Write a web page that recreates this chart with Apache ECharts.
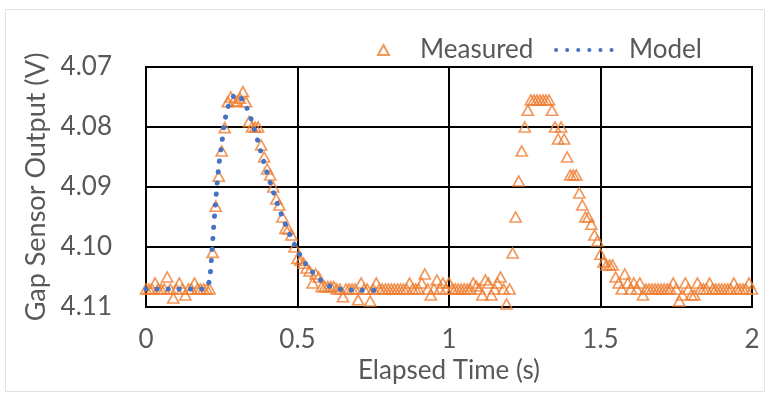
<!DOCTYPE html>
<html>
<head>
<meta charset="utf-8">
<script src="https://cdn.jsdelivr.net/npm/echarts@6/dist/echarts.min.js"></script>
<style>
  html, body { margin: 0; padding: 0; background: #fff; }
  #chart { width: 770px; height: 394px; }
</style>
</head>
<body>
<div id="chart"></div>
<script>
// sample times (s) and gap sensor readings (V)
const measuredTime = [
  0.00, 0.01, 0.02, 0.03, 0.04, 0.05, 0.06, 0.07, 0.08, 0.09,
  0.10, 0.11, 0.12, 0.13, 0.14, 0.15, 0.16, 0.17, 0.18, 0.19,
  0.20, 0.21, 0.22, 0.23, 0.24, 0.25, 0.26, 0.27, 0.28, 0.29,
  0.30, 0.31, 0.32, 0.33, 0.34, 0.35, 0.36, 0.37, 0.38, 0.39,
  0.40, 0.41, 0.42, 0.43, 0.44, 0.45, 0.46, 0.47, 0.48, 0.49,
  0.50, 0.51, 0.52, 0.53, 0.54, 0.55, 0.56, 0.57, 0.58, 0.59,
  0.60, 0.61, 0.62, 0.63, 0.64, 0.65, 0.66, 0.67, 0.68, 0.69,
  0.70, 0.71, 0.72, 0.73, 0.74, 0.75, 0.76, 0.77, 0.78, 0.79,
  0.80, 0.81, 0.82, 0.83, 0.84, 0.85, 0.86, 0.87, 0.88, 0.89,
  0.90, 0.91, 0.92, 0.93, 0.94, 0.95, 0.96, 0.97, 0.98, 0.99,
  1.00, 1.01, 1.02, 1.03, 1.04, 1.05, 1.06, 1.07, 1.08, 1.09,
  1.10, 1.11, 1.12, 1.13, 1.14, 1.15, 1.16, 1.17, 1.18, 1.19,
  1.20, 1.21, 1.22, 1.23, 1.24, 1.25, 1.26, 1.27, 1.28, 1.29,
  1.30, 1.31, 1.32, 1.33, 1.34, 1.35, 1.36, 1.37, 1.38, 1.39,
  1.40, 1.41, 1.42, 1.43, 1.44, 1.45, 1.46, 1.47, 1.48, 1.49,
  1.50, 1.51, 1.52, 1.53, 1.54, 1.55, 1.56, 1.57, 1.58, 1.59,
  1.60, 1.61, 1.62, 1.63, 1.64, 1.65, 1.66, 1.67, 1.68, 1.69,
  1.70, 1.71, 1.72, 1.73, 1.74, 1.75, 1.76, 1.77, 1.78, 1.79,
  1.80, 1.81, 1.82, 1.83, 1.84, 1.85, 1.86, 1.87, 1.88, 1.89,
  1.90, 1.91, 1.92, 1.93, 1.94, 1.95, 1.96, 1.97, 1.98, 1.99,
  2.00
];
const measuredValue = [
  4.107, 4.107, 4.107, 4.106, 4.107, 4.107, 4.107, 4.105, 4.107, 4.1085,
  4.107, 4.106, 4.107, 4.108, 4.107, 4.107, 4.106, 4.107, 4.107, 4.107,
  4.107, 4.107, 4.1009, 4.0932, 4.0882, 4.0840, 4.0801, 4.0758, 4.0750, 4.0756,
  4.0758, 4.0752, 4.0741, 4.0758, 4.0791, 4.0800, 4.0800, 4.0800, 4.0830, 4.0850,
  4.0870, 4.0880, 4.0900, 4.0920, 4.0930, 4.0950, 4.0969, 4.0970, 4.0980, 4.1000,
  4.1019, 4.1022, 4.1027, 4.1035, 4.1040, 4.1060, 4.1045, 4.1050, 4.1066, 4.1066,
  4.1066, 4.1066, 4.1066, 4.107, 4.107, 4.1083, 4.107, 4.107, 4.107, 4.107,
  4.1088, 4.106, 4.107, 4.107, 4.109, 4.107, 4.106, 4.107, 4.107, 4.107,
  4.107, 4.107, 4.107, 4.107, 4.107, 4.107, 4.107, 4.106, 4.107, 4.107,
  4.107, 4.106, 4.1045, 4.107, 4.108, 4.107, 4.1055, 4.107, 4.106, 4.107,
  4.106, 4.107, 4.107, 4.107, 4.107, 4.107, 4.107, 4.107, 4.106, 4.1065,
  4.107, 4.108, 4.1055, 4.106, 4.108, 4.107, 4.106, 4.105, 4.107, 4.1095,
  4.107, 4.1010, 4.0950, 4.0890, 4.0840, 4.0800, 4.0772, 4.0755, 4.0755, 4.0755,
  4.0755, 4.0755, 4.0755, 4.0755, 4.0772, 4.0800, 4.0820, 4.0800, 4.0820, 4.0850,
  4.0880, 4.0880, 4.0880, 4.0910, 4.0930, 4.0950, 4.0950, 4.0962, 4.0980, 4.0990,
  4.1012, 4.1025, 4.1030, 4.1030, 4.1030, 4.1050, 4.106, 4.107, 4.1045, 4.106,
  4.107, 4.106, 4.107, 4.106, 4.108, 4.107, 4.107, 4.107, 4.107, 4.107,
  4.107, 4.107, 4.107, 4.107, 4.106, 4.107, 4.109, 4.108, 4.106, 4.107,
  4.108, 4.108, 4.106, 4.107, 4.107, 4.107, 4.106, 4.107, 4.107, 4.107,
  4.107, 4.107, 4.107, 4.107, 4.106, 4.107, 4.107, 4.107, 4.107, 4.106,
  4.107
];

const modelTime = [
  0.00, 0.10, 0.19, 0.20, 0.21, 0.22, 0.23, 0.24, 0.25, 0.26,
  0.27, 0.28, 0.29, 0.30, 0.31, 0.32, 0.33, 0.34, 0.35, 0.36,
  0.37, 0.38, 0.39, 0.40, 0.41, 0.42, 0.43, 0.44, 0.45, 0.46,
  0.47, 0.48, 0.49, 0.50, 0.51, 0.52, 0.53, 0.54, 0.55, 0.56,
  0.57, 0.58, 0.59, 0.60, 0.62, 0.65, 0.70, 0.78
];
const modelValue = [
  4.107, 4.107, 4.107, 4.1068, 4.1054, 4.0990, 4.0923, 4.0866, 4.0828, 4.0790,
  4.0768, 4.0755, 4.0748, 4.0745, 4.0749, 4.0757, 4.0766, 4.0776, 4.0792, 4.0808,
  4.0825, 4.0843, 4.0860, 4.0877, 4.0893, 4.0908, 4.0923, 4.0937, 4.0950, 4.0962,
  4.0974, 4.0985, 4.0996, 4.1006, 4.1015, 4.1023, 4.1030, 4.1036, 4.1042, 4.1047,
  4.1052, 4.1057, 4.1061, 4.1064, 4.1068, 4.1071, 4.1072, 4.1072
];

const FONT = 'Lato';
const GREY = '#595959';

const chart = echarts.init(document.getElementById('chart'));

chart.setOption({
  animation: false,
  backgroundColor: '#fff',
  textStyle: { fontFamily: FONT },
  graphic: [{
    type: 'rect',
    shape: { x: 5.5, y: 9.5, width: 759, height: 382 },
    style: { fill: 'none', stroke: '#e3e3e3', lineWidth: 1 },
    silent: true
  }],
  legend: [
    {
      data: ['Measured'],
      left: 372,
      top: 32,
      itemWidth: 11,
      itemHeight: 10,
      formatter: '{a|{name}}',
      textStyle: {
        rich: { a: { fontFamily: FONT, fontSize: 26, color: GREY, padding: [0, 0, 0, 26] } }
      }
    },
    {
      data: ['Model'],
      left: 549,
      top: 32,
      itemWidth: 62,
      itemHeight: 10,
      itemStyle: { opacity: 0 },
      lineStyle: { color: '#4472C4', width: 4, type: [0.1, 11], cap: 'round' },
      formatter: '{a|{name}}',
      textStyle: {
        rich: { a: { fontFamily: FONT, fontSize: 26, color: GREY, padding: [0, 0, 0, 6] } }
      }
    }
  ],
  grid: {
    left: 146,
    right: 18,
    top: 67,
    bottom: 87,
    show: true,
    borderColor: '#000',
    borderWidth: 2
  },
  xAxis: {
    type: 'value',
    min: 0,
    max: 2,
    interval: 0.5,
    name: 'Elapsed Time (s)',
    nameLocation: 'middle',
    nameGap: 50,
    nameTextStyle: { fontFamily: FONT, fontSize: 26, color: GREY },
    axisLine: { show: true, onZero: false, lineStyle: { color: '#000', width: 2 } },
    axisTick: { show: false },
    axisLabel: { fontFamily: FONT, fontSize: 26, color: GREY, margin: 20 },
    splitLine: { show: true, lineStyle: { color: '#000', width: 2 } }
  },
  yAxis: {
    type: 'value',
    inverse: true,
    min: 4.07,
    max: 4.11,
    interval: 0.01,
    name: 'Gap Sensor Output (V)',
    nameLocation: 'middle',
    nameGap: 92,
    nameTextStyle: { fontFamily: FONT, fontSize: 27, color: GREY },
    axisLine: { show: true, onZero: false, lineStyle: { color: '#000', width: 2 } },
    axisTick: { show: false },
    axisLabel: {
      fontFamily: FONT, fontSize: 26, color: GREY, margin: 34,
      formatter: v => v.toFixed(2)
    },
    splitLine: { show: true, lineStyle: { color: '#000', width: 2 } }
  },
  series: [
    {
      name: 'Measured',
      type: 'scatter',
      symbol: 'triangle',
      symbolSize: [11, 10],
      itemStyle: { color: 'rgba(255,255,255,0)', borderColor: '#ED7D31', borderWidth: 1.7 },
      data: measuredTime.map((t, i) => [t, measuredValue[i]])
    },
    {
      name: 'Model',
      type: 'line',
      showSymbol: false,
      symbol: 'none',
      smooth: 0.3,
      itemStyle: { color: '#4472C4' },
      lineStyle: { color: '#4472C4', width: 5, type: [0.1, 11], cap: 'round' },
      data: modelTime.map((t, i) => [t, modelValue[i]])
    }
  ]
});
</script>
</body>
</html>
